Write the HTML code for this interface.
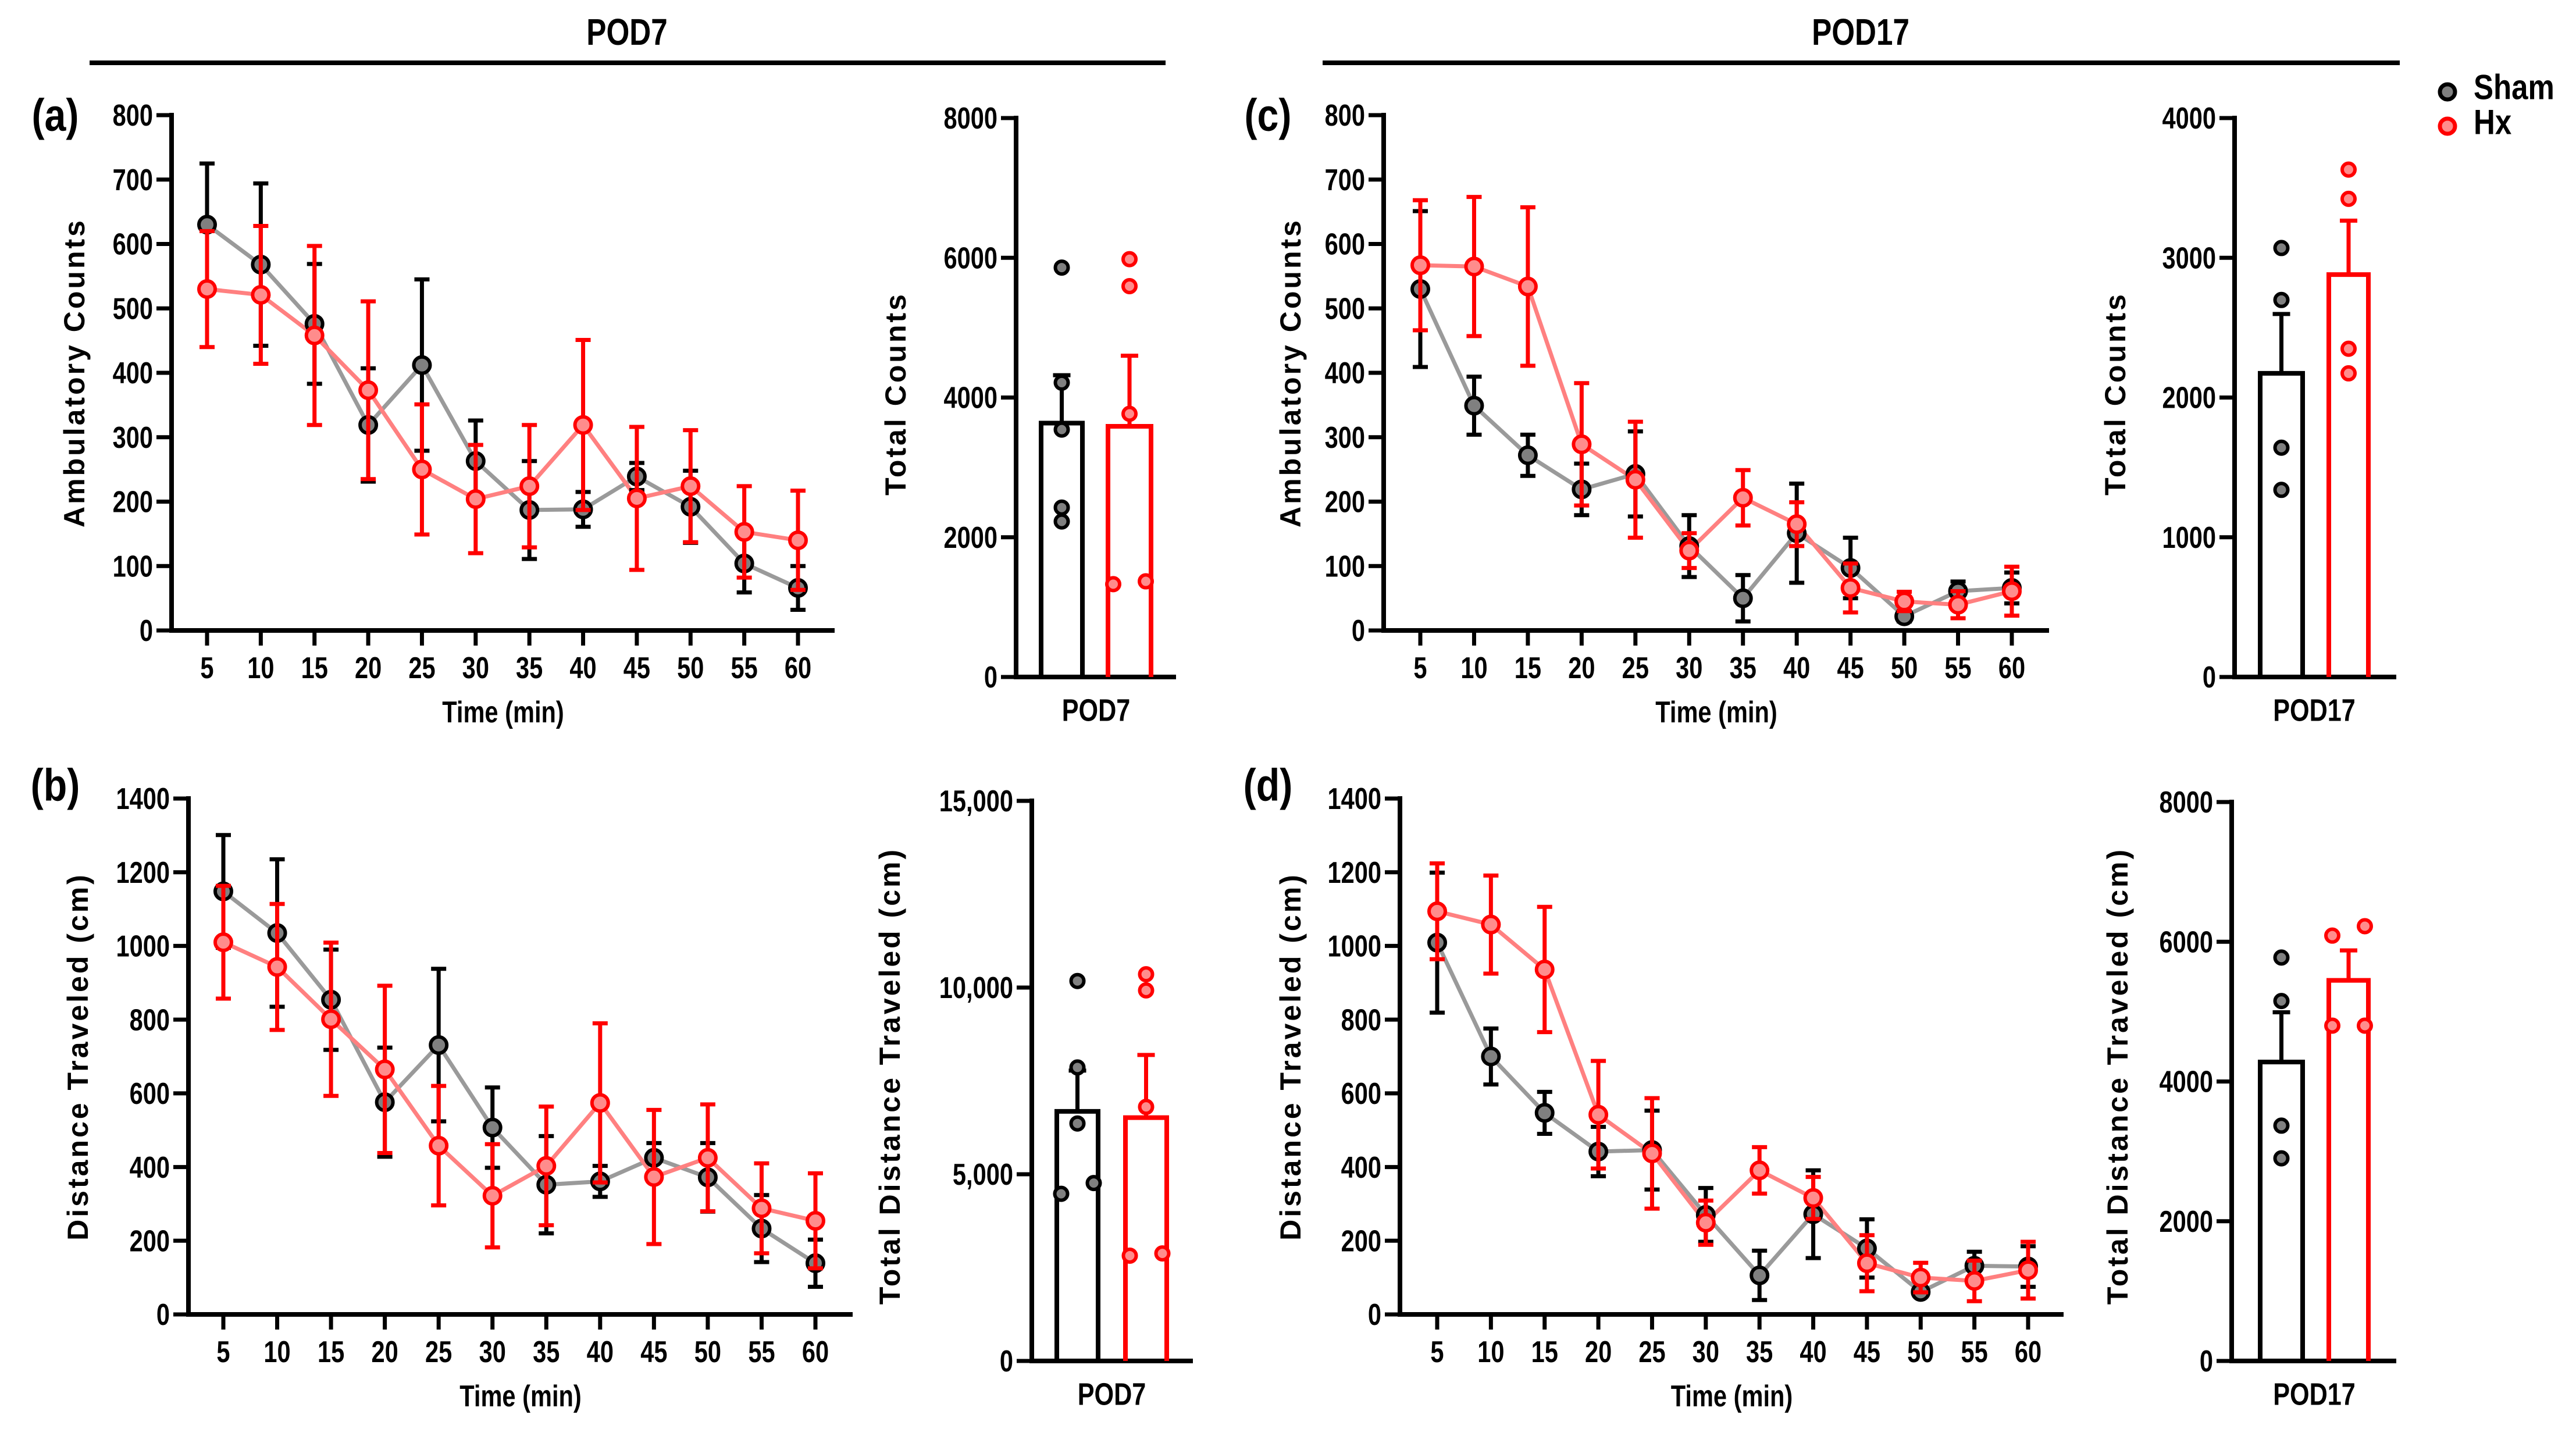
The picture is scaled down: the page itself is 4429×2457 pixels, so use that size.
<!DOCTYPE html>
<html><head><meta charset="utf-8"><style>
html,body{margin:0;padding:0;background:#fff;}
svg{display:block;}
</style></head><body>
<svg id="fig" width="4429" height="2457" viewBox="0 0 4429 2457" xmlns="http://www.w3.org/2000/svg">
<rect width="4429" height="2457" fill="#fff"/>
</svg>
<script>
const times = [5,10,15,20,25,30,35,40,45,50,55,60];
const xTicks = ["5","10","15","20","25","30","35","40","45","50","55","60"];
// (a) ambulatory POD7
const aShamMean = [630,568,476,319,412,263,187,188,239,192,104,66];
const aShamErr = [95,126,93,88,133,63,76,27,21,56,45,34];
const aHxMean = [530,521,458,373,250,204,224,319,205,224,153,140];
const aHxErr = [90,107,139,138,101,84,95,132,111,87,71,77];
// (b) distance POD7
const bShamMean = [1148,1035,854,576,731,507,352,361,425,372,233,139];
const bShamErr = [153,200,136,148,207,109,132,42,40,93,91,64];
const bHxMean = [1010,943,801,665,458,322,403,574,373,425,288,254];
const bHxErr = [153,171,208,227,162,140,161,216,182,145,122,129];
// (c) ambulatory POD17
const cShamMean = [530,349,272,219,243,131,50,151,97,22,61,66];
const cShamErr = [121,45,32,40,66,48,36,77,47,8,15,24];
const cHxMean = [567,565,534,289,234,124,206,165,66,45,40,61];
const cHxErr = [101,108,123,95,90,27,43,34,38,15,21,38];
// (d) distance POD17
const dShamMean = [1009,700,547,442,446,270,106,272,179,61,132,130];
const dShamErr = [190,76,57,67,107,73,67,119,79,10,38,55];
const dHxMean = [1094,1058,936,542,437,249,391,316,139,100,91,120];
const dHxErr = [130,133,170,146,150,60,63,57,76,40,55,77];
// bar totals
const aBarMean = [3634,3588];
const aBarErr = [685,1010];
const aShamPts = [5860,4213,3541,2425,2226];
const aHxPts = [5980,5594,3767,1329,1369];
const bBarMean = [6684,6516];
const bBarErr = [1092,1680];
const bShamPts = [10176,7860,6360,4764,4476];
const bHxPts = [10356,9924,6804,2820,2880];
const cBarMean = [2173,2880];
const cBarErr = [425,386];
const cShamPts = [3070,2698,1641,1339];
const cHxPts = [3631,3422,2349,2173];
const dBarMean = [4279,5447];
const dBarErr = [712,429];
const dShamPts = [5774,5152,3368,2900];
const dHxPts = [6088,6223,4799,4799];
const lineTicksA = [0,100,200,300,400,500,600,700,800];
const lineTicksB = [0,200,400,600,800,1000,1200,1400];
const barTicksA = [0,2000,4000,6000,8000];
const barTicksB = [0,5000,10000,15000];
const barTicksBLabels = ["0","5,000","10,000","15,000"];
const barTicksC = [0,1000,2000,3000,4000];
const barTicksD = [0,2000,4000,6000,8000];

const svg = document.getElementById('fig');
const NS = 'http://www.w3.org/2000/svg';
function mk(tag, attrs, parent){
  const e = document.createElementNS(NS, tag);
  for (const k in attrs) e.setAttribute(k, attrs[k]);
  (parent||svg).appendChild(e);
  return e;
}
function txt(x,y,s,size,opts,parent){
  opts = opts||{};
  const sx = opts.sx||0.8;
  const t = mk('text',{transform:`translate(${x},${y}) scale(${sx},1)`+(opts.rot?` rotate(${opts.rot})`:''),
    'font-family':'Liberation Sans, Arial, sans-serif','font-size':size,'font-weight':opts.w||'bold',
    'text-anchor':opts.anchor||'middle','dominant-baseline':'central',fill:'#000'},parent);
  if (opts.ls) t.setAttribute('letter-spacing', opts.ls);
  t.textContent = s;
  return t;
}

function linePanel(cfg){
  const g = mk('g',{});
  
  
  const ys = v => cfg.y0 - (v/cfg.ymax)*(cfg.y0-cfg.ytop);
  const xs = t => cfg.x5 + (t-5)/55*(cfg.x60-cfg.x5);
  const ax = mk('path',{d:`M${cfg.ax} ${cfg.ytop-4} V${cfg.y0} H${cfg.xend}`,stroke:'#000','stroke-width':8,fill:'none'},g);
  
  
  cfg.yticks.forEach(v=>{
    const y = ys(v);
    mk('line',{x1:cfg.ax-26,x2:cfg.ax,y1:y,y2:y,stroke:'#000','stroke-width':7},g);
    const t = txt(cfg.ax-32,y,String(v),52,{anchor:'end'},g);
    
    
  });
  times.forEach((tm,i)=>{
    const x = xs(tm);
    mk('line',{x1:x,x2:x,y1:cfg.y0,y2:cfg.y0+26,stroke:'#000','stroke-width':7},g);
    const t = txt(x,cfg.y0+64,xTicks[i],52,{},g);
    
    
  });
  const xt = txt((cfg.ax+cfg.xend)/2, cfg.y0+140, 'Time (min)', 52, {}, g);
  
  
  const yt = txt(cfg.ytx, (cfg.y0+cfg.ytop)/2, cfg.ytitle, 50, {sx:1,rot:-90,ls:4}, g);
  
  
  const series = [
    {m:cfg.sm,e:cfg.se,line:'#9a9a9a',err:'#000',fill:'#808080',stroke:'#000',n:'sham'},
    {m:cfg.hm,e:cfg.he,line:'#ff8080',err:'#ff0000',fill:'#ff8c8c',stroke:'#ff0000',n:'hx'}
  ];
  series.forEach(s=>{
    const p = mk('polyline',{points:times.map((t,i)=>`${xs(t)},${ys(s.m[i])}`).join(' '),fill:'none',stroke:s.line,'stroke-width':7},g);
    
    
  });
  series.forEach(s=>{
    times.forEach((t,i)=>{
      const x = xs(t), yhi = ys(s.m[i]+s.e[i]), ylo = ys(Math.max(0,s.m[i]-s.e[i]));
      const eb = mk('path',{d:`M${x} ${yhi} V${ylo} M${x-13} ${yhi} H${x+13} M${x-13} ${ylo} H${x+13}`,stroke:s.err,'stroke-width':7,fill:'none'},g);
      
      
    });
    times.forEach((t,i)=>{
      const c = mk('circle',{cx:xs(t),cy:ys(s.m[i]),r:14,fill:s.fill,stroke:s.stroke,'stroke-width':6},g);
      
      
    });
  });
}

function barPanel(cfg){
  const g = mk('g',{});
  
  
  const ys = v => cfg.y0 - (v/cfg.ymax)*(cfg.y0-cfg.ytop);
  const ax = mk('path',{d:`M${cfg.ax} ${cfg.ytop-4} V${cfg.y0} H${cfg.xend}`,stroke:'#000','stroke-width':8,fill:'none'},g);
  
  
  cfg.yticks.forEach((v,i)=>{
    const y = ys(v);
    mk('line',{x1:cfg.ax-26,x2:cfg.ax,y1:y,y2:y,stroke:'#000','stroke-width':7},g);
    const t = txt(cfg.ax-32,y,cfg.ylabels?cfg.ylabels[i]:String(v),52,{anchor:'end'},g);
    
    
  });
  const yt = txt(cfg.ytx, cfg.yty, cfg.ytitle, 50, {sx:1,rot:-90,ls:4}, g);
  
  
  const xl = txt((cfg.b1[0]+cfg.b2[1])/2, cfg.y0+58, cfg.label, 54, {}, g);
  
  
  const bars = [
    {b:cfg.b1,m:cfg.mean[0],e:cfg.err[0],pts:cfg.sp,jit:cfg.sj,col:'#000',fill:'#808080',n:'sham'},
    {b:cfg.b2,m:cfg.mean[1],e:cfg.err[1],pts:cfg.hp,jit:cfg.hj,col:'#ff0000',fill:'#ff8c8c',n:'hx'}
  ];
  bars.forEach(b=>{
    const x1=b.b[0], x2=b.b[1], xc=(x1+x2)/2, ym=ys(b.m), ye=ys(b.m+b.e);
    const eb = mk('path',{d:`M${xc} ${ym} V${ye} M${xc-15} ${ye} H${xc+15}`,stroke:b.col,'stroke-width':7,fill:'none'},g);
    
    
    const r = mk('path',{d:`M${x1} ${cfg.y0} V${ym} H${x2} V${cfg.y0}`,stroke:b.col,'stroke-width':8,fill:'none'},g);
    
    
    b.pts.forEach((v,i)=>{
      const dx = (b.jit && b.jit[i]) ? b.jit[i] : 0;
      const c = mk('circle',{cx:xc+dx,cy:ys(v),r:11,fill:b.fill,stroke:b.col,'stroke-width':6},g);
      
      
    });
  });
}

linePanel({name:'panel-a-ambulatory-pod7',ax:295,x5:356,x60:1372,xend:1435,y0:1084,ytop:198,ymax:800,yticks:lineTicksA,
  ytitle:'Ambulatory Counts',ytx:128,sm:aShamMean,se:aShamErr,hm:aHxMean,he:aHxErr});
barPanel({name:'panel-a-total-counts-pod7',ax:1747,xend:2022,y0:1164,ytop:203,ymax:8000,yticks:barTicksA,
  ytitle:'Total Counts',ytx:1540,yty:677,label:'POD7',b1:[1790,1861],b2:[1905,1979],mean:aBarMean,err:aBarErr,sp:aShamPts,hp:aHxPts,
  sj:[0,0,0,0,0],hj:[0,0,0,-28,28]});
linePanel({name:'panel-c-ambulatory-pod17',ax:2379,x5:2442,x60:3459,xend:3523,y0:1084,ytop:198,ymax:800,yticks:lineTicksA,
  ytitle:'Ambulatory Counts',ytx:2219,sm:cShamMean,se:cShamErr,hm:cHxMean,he:cHxErr});
barPanel({name:'panel-c-total-counts-pod17',ax:3842,xend:4120,y0:1164,ytop:203,ymax:4000,yticks:barTicksC,
  ytitle:'Total Counts',ytx:3637,yty:677,label:'POD17',b1:[3886,3959],b2:[4004,4072],mean:cBarMean,err:cBarErr,sp:cShamPts,hp:cHxPts});
linePanel({name:'panel-b-distance-pod7',ax:324,x5:384,x60:1402,xend:1466,y0:2260,ytop:1373,ymax:1400,yticks:lineTicksB,
  ytitle:'Distance Traveled (cm)',ytx:134,sm:bShamMean,se:bShamErr,hm:bHxMean,he:bHxErr});
barPanel({name:'panel-b-total-distance-pod7',ax:1774,xend:2051,y0:2340,ytop:1377,ymax:15000,yticks:barTicksB,ylabels:barTicksBLabels,
  ytitle:'Total Distance Traveled (cm)',ytx:1530,yty:1850,label:'POD7',b1:[1817,1888],b2:[1935,2006],mean:bBarMean,err:bBarErr,sp:bShamPts,hp:bHxPts,
  sj:[0,0,0,28,-28],hj:[0,0,0,-28,28]});
linePanel({name:'panel-d-distance-pod17',ax:2407,x5:2471,x60:3487,xend:3548,y0:2260,ytop:1373,ymax:1400,yticks:lineTicksB,
  ytitle:'Distance Traveled (cm)',ytx:2219,sm:dShamMean,se:dShamErr,hm:dHxMean,he:dHxErr});
barPanel({name:'panel-d-total-distance-pod17',ax:3837,xend:4120,y0:2340,ytop:1379,ymax:8000,yticks:barTicksD,
  ytitle:'Total Distance Traveled (cm)',ytx:3641,yty:1850,label:'POD17',b1:[3886,3959],b2:[4004,4072],mean:dBarMean,err:dBarErr,sp:dShamPts,hp:dHxPts,
  hj:[-28,28,-28,28]});

let t;
t = txt(1078,56,'POD7',64,{});


let l = mk('line',{x1:154,x2:2004,y1:108,y2:108,stroke:'#000','stroke-width':8});


t = txt(3199,56,'POD17',64,{});


l = mk('line',{x1:2274,x2:4126,y1:108,y2:108,stroke:'#000','stroke-width':8});


[['(a)',95,198],['(c)',2180,198],['(b)',95,1350],['(d)',2180,1350]].forEach(p=>{
  const e = txt(p[1],p[2],p[0],78,{sx:0.85});
  
  
});
let c = mk('circle',{cx:4208,cy:158,r:13,fill:'#808080',stroke:'#000','stroke-width':7});


t = txt(4253,150,'Sham',60,{anchor:'start',sx:0.85});


c = mk('circle',{cx:4208,cy:217,r:13,fill:'#ff8c8c',stroke:'#ff0000','stroke-width':7});


t = txt(4253,210,'Hx',60,{anchor:'start',sx:0.85});


</script>
</body></html>
